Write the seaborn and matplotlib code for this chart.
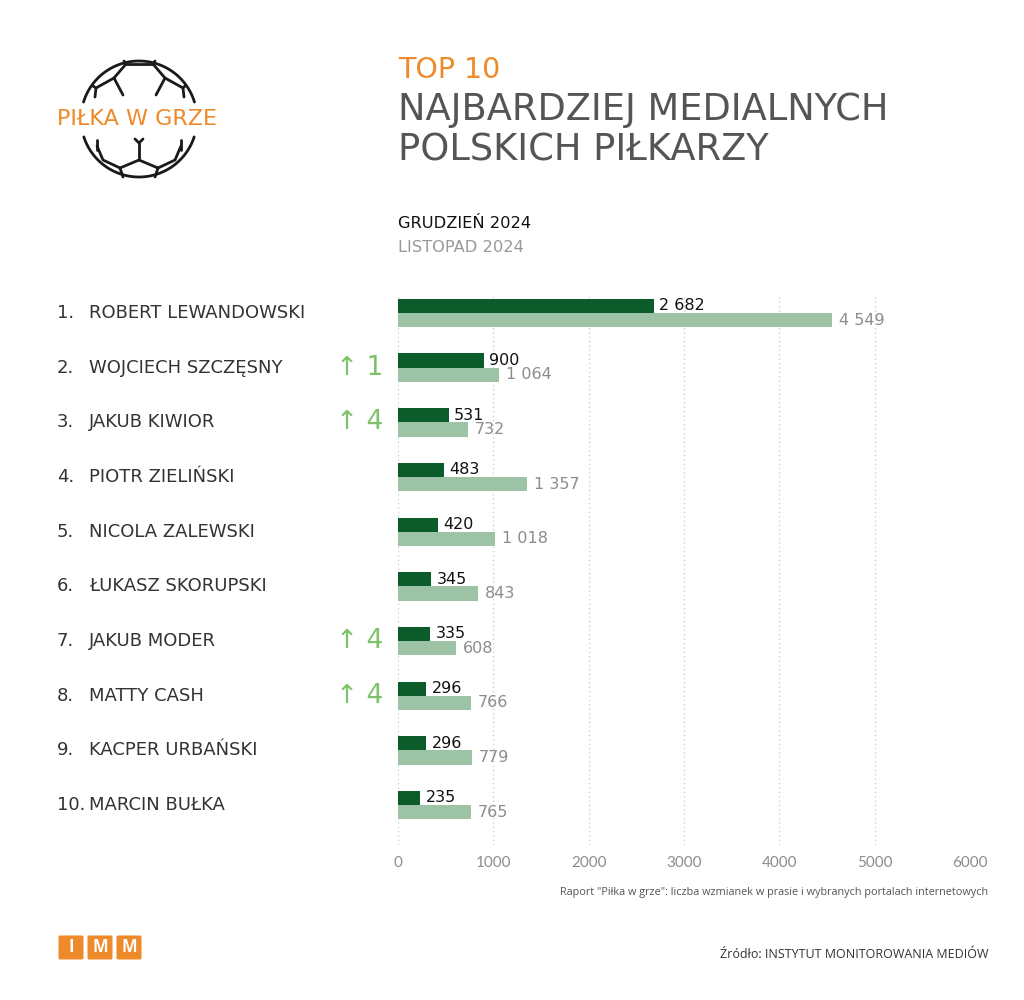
import numpy as np
import pandas as pd
import seaborn as sns
import matplotlib.pyplot as plt
from matplotlib.transforms import blended_transform_factory
from matplotlib.patches import FancyBboxPatch

# dane z raportu
zawodnicy = ["ROBERT LEWANDOWSKI", "WOJCIECH SZCZĘSNY", "JAKUB KIWIOR", "PIOTR ZIELIŃSKI",
             "NICOLA ZALEWSKI", "ŁUKASZ SKORUPSKI", "JAKUB MODER", "MATTY CASH",
             "KACPER URBAŃSKI", "MARCIN BUŁKA"]
grudzien = [2682, 900, 531, 483, 420, 345, 335, 296, 296, 235]
listopad = [4549, 1064, 732, 1357, 1018, 843, 608, 766, 779, 765]
awans = ["", "1", "4", "", "", "", "4", "4", "", ""]
miesiace = ["GRUDZIEŃ 2024", "LISTOPAD 2024"]
ticks = [0, 1000, 2000, 3000, 4000, 5000, 6000]

df = pd.DataFrame({
    "zawodnik": zawodnicy * 2,
    "wartosc": grudzien + listopad,
    "miesiac": [miesiace[0]] * 10 + [miesiace[1]] * 10,
})

CIEMNY = "#0c5b2a"
JASNY = "#9dc3a6"
POMARANCZ = "#ee8a2a"
SZARY = "#8c8c8c"
SZEROKI = ['DejaVu Sans']

sns.set_style("white")
plt.rcParams['font.family'] = ['Open Sans', 'DejaVu Sans']

fig = plt.figure(figsize=(10.24, 10), dpi=100)
ax = fig.add_axes([398 / 1024, 1 - 845 / 1000, 572 / 1024, 550 / 1000])

sns.barplot(data=df, y="zawodnik", x="wartosc", hue="miesiac", orient="h",
            palette=[CIEMNY, JASNY], width=0.52, gap=0, saturation=1,
            linewidth=0, legend=False, ax=ax)

ax.set_xlim(0, 6000)
ax.set_ylim(9.73, -0.33)
ax.set_xticks(ticks)
ax.set_xticklabels([str(t) for t in ticks], color=SZARY, fontsize=11, family=['Lato', 'DejaVu Sans'])
ax.tick_params(axis='x', length=0, pad=8)
ax.set_yticks([])
ax.set_xlabel("")
ax.set_ylabel("")
for s in ax.spines.values():
    s.set_visible(False)
ax.xaxis.grid(True, linestyle=(0, (1, 2.5)), color="#c8c8c8", linewidth=0.9)
ax.set_axisbelow(True)


def fmt(v):
    return f"{v:,}".replace(",", " ")


ax.bar_label(ax.containers[0], labels=[fmt(v) for v in grudzien], padding=4,
             color="#111111", fontsize=11.5, family=SZEROKI)
ax.bar_label(ax.containers[1], labels=[fmt(v) for v in listopad], padding=5,
             color=SZARY, fontsize=11.5, family=SZEROKI)

# nazwiska i awanse
tr = blended_transform_factory(fig.transFigure, ax.transData)
for i, name in enumerate(zawodnicy):
    ax.text(57 / 1024, i, f"{i + 1}.", transform=tr, ha='left', va='center',
            fontsize=13, color="#333333", family=SZEROKI)
    ax.text(89 / 1024, i, name, transform=tr, ha='left', va='center',
            fontsize=13, color="#333333", family=SZEROKI)
    if awans[i]:
        ax.text(-150, i, "↑ " + awans[i], ha='right', va='center', fontsize=19,
                color="#7dc26b", clip_on=False, family=SZEROKI)

# tytuły
fig.text(398 / 1024, 1 - 70 / 1000, "TOP 10", color=POMARANCZ, fontsize=20.5, va='center', family=SZEROKI)
fig.text(398 / 1024, 1 - 110 / 1000, "NAJBARDZIEJ MEDIALNYCH", color="#555555", fontsize=26.5,
         va='center', family=SZEROKI)
fig.text(398 / 1024, 1 - 150 / 1000, "POLSKICH PIŁKARZY", color="#555555", fontsize=26.5,
         va='center', family=SZEROKI)
fig.text(398 / 1024, 1 - 224 / 1000, miesiace[0], color="#111111", fontsize=11.7, va='center', family=SZEROKI)
fig.text(398 / 1024, 1 - 247 / 1000, miesiace[1], color="#999999", fontsize=11.7, va='center', family=SZEROKI)

fig.text(988 / 1024, 1 - 893 / 1000,
         'Raport "Piłka w grze": liczba wzmianek w prasie i wybranych portalach internetowych',
         color="#555555", fontsize=7.8, ha='right', va='center')
fig.text(988 / 1024, 1 - 955 / 1000, "Źródło: INSTYTUT MONITOROWANIA MEDIÓW",
         color="#333333", fontsize=9, ha='right', va='center')

# logo piłki
lg = fig.add_axes([0, 0, 1, 1], zorder=-1)
lg.set_xlim(0, 1024)
lg.set_ylim(1000, 0)
lg.axis('off')
cx, cy, r = 139, 119, 58
t = np.radians(np.linspace(17, 163, 80))
lg.plot(cx + r * np.cos(t), cy - r * np.sin(t), color="#1a1a1a", lw=2)
t = np.radians(np.linspace(198, 342, 80))
lg.plot(cx + r * np.cos(t), cy - r * np.sin(t), color="#1a1a1a", lw=2)
linie = [
    [(126, 64), (153, 64)], [(124, 61), (126, 64), (114, 78), (96, 88)], [(114, 78), (123, 95)],
    [(155, 61), (153, 64), (165, 78), (183, 88)], [(165, 78), (156, 95)], [(93, 86), (96, 88), (95, 97)],
    [(185, 86), (183, 88), (184, 97)],
    [(135, 139), (139, 143), (143, 139)], [(139, 143), (139, 160)],
    [(120, 168), (139, 160), (158, 168)], [(120, 168), (103, 160), (97, 146)],
    [(158, 168), (175, 160), (181, 146)], [(120, 168), (123, 177)], [(158, 168), (155, 177)],
    [(97, 140), (97, 150)], [(181, 140), (181, 150)],
]
for ln in linie:
    xs, ys = zip(*ln)
    lg.plot(xs, ys, color="#1a1a1a", lw=2, solid_capstyle='round')
fig.text(137 / 1024, 1 - 119 / 1000, "PIŁKA W GRZE", color=POMARANCZ, fontsize=16,
         ha='center', va='center', family=SZEROKI)

# logo IMM
for k, lit in enumerate("IMM"):
    x0 = 58 + k * 29
    lg.add_patch(FancyBboxPatch((x0 + 2, 937), 22, 21, boxstyle="round,pad=1.5",
                                facecolor=POMARANCZ, edgecolor='none'))
    lg.text(x0 + 13, 947.5, lit, color='white', fontsize=12, fontweight='bold',
            ha='center', va='center')

fig.savefig("out.png", dpi=100, facecolor='white')
